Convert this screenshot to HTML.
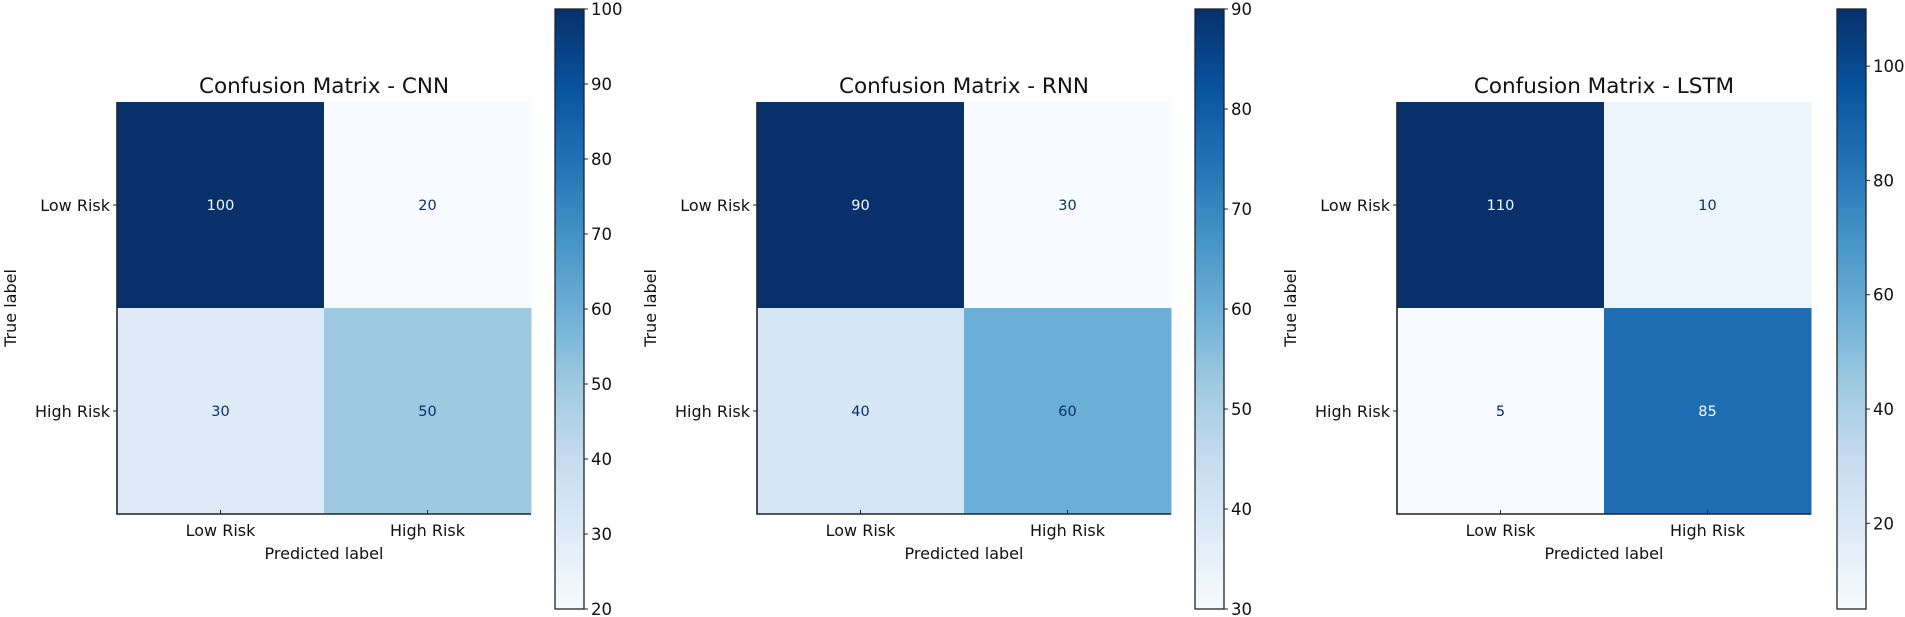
<!DOCTYPE html>
<html><head><meta charset="utf-8"><style>
html,body{margin:0;padding:0;background:#fff;}
svg{display:block;font-family:"DejaVu Sans","Liberation Sans",sans-serif;}
</style></head><body>
<svg id="fig" width="1905" height="617" viewBox="0 0 1905 617" xmlns="http://www.w3.org/2000/svg">
<defs>
<linearGradient id="blues" x1="0" y1="1" x2="0" y2="0">
<stop offset="0" stop-color="#f7fbff"/><stop offset="0.125" stop-color="#deebf7"/><stop offset="0.25" stop-color="#c6dbef"/><stop offset="0.375" stop-color="#9ecae1"/><stop offset="0.5" stop-color="#6baed6"/><stop offset="0.625" stop-color="#4292c6"/><stop offset="0.75" stop-color="#2171b5"/><stop offset="0.875" stop-color="#08519c"/><stop offset="1" stop-color="#08306b"/>
</linearGradient>
</defs>
</svg>
<script>
// ---- data ----
const modelNames = ["CNN", "RNN", "LSTM"];
const classLabels = ["Low Risk", "High Risk"];
const cnnValues = [[100, 20], [30, 50]];
const rnnValues = [[90, 30], [40, 60]];
const lstmValues = [[110, 10], [5, 85]];
const cnnTicks = [20, 30, 40, 50, 60, 70, 80, 90, 100];
const rnnTicks = [30, 40, 50, 60, 70, 80, 90];
const lstmTicks = [20, 40, 60, 80, 100];

const allValues = [cnnValues, rnnValues, lstmValues];
const allTicks = [cnnTicks, rnnTicks, lstmTicks];

const NS = "http://www.w3.org/2000/svg";
const svg = document.getElementById("fig");
const stops = ["#f7fbff","#deebf7","#c6dbef","#9ecae1","#6baed6","#4292c6","#2171b5","#08519c","#08306b"];
function hex(c){return [1,3,5].map(i=>parseInt(c.substr(i,2),16));}
function blues(t){
  t=Math.max(0,Math.min(1,t));
  const p=t*(stops.length-1), i=Math.min(Math.floor(p),stops.length-2), f=p-i;
  const a=hex(stops[i]), b=hex(stops[i+1]);
  return "rgb("+a.map((v,k)=>Math.round(v+(b[k]-v)*f)).join(",")+")";
}
function mk(tag, attrs, parent){
  const e=document.createElementNS(NS,tag);
  for(const k in attrs) e.setAttribute(k,attrs[k]);
  (parent||svg).appendChild(e); return e;
}

const axTop=102, axBot=514, axW=414;
const axLefts=[117,757,1397];
const cbLefts=[555,1195,1837];
const cbTop=9, cbBot=609, cbW=29;

allValues.forEach((vals, m)=>{
  const flat=vals.flat();
  const vmin=Math.min(...flat), vmax=Math.max(...flat);
  const thr=(vmin+vmax)/2;
  const L=axLefts[m];
  const g=mk("g",{});
  
  
  const cw=axW/2, ch=(axBot-axTop)/2;
  const xScale=j=>L+cw*j;
  const yScale=i=>axTop+ch*i;
  for(let i=0;i<2;i++)for(let j=0;j<2;j++){
    const v=vals[i][j];
    const r=mk("rect",{x:xScale(j),y:yScale(i),width:cw+0.5,height:ch+0.5,fill:blues((v-vmin)/(vmax-vmin))},g);
    
    
    const t=mk("text",{x:xScale(j)+cw/2,y:yScale(i)+ch/2+5,"text-anchor":"middle","font-size":"14.5",fill:v>thr?"#f7fbff":"#08306b"},g);
    t.textContent=v;
    
    
  }
  // spines
  const sp=mk("path",{d:`M${L} ${axTop} V${axBot} H${L+axW}`,stroke:"#222",fill:"none","stroke-width":"1.6"},g);
  
  
  // ticks & labels
  classLabels.forEach((lab,k)=>{
    const cy=yScale(k)+ch/2, cx=xScale(k)+cw/2;
    mk("line",{x1:L-4,x2:L,y1:cy,y2:cy,stroke:"#222"},g);
    mk("line",{x1:cx,x2:cx,y1:axBot,y2:axBot-4,stroke:"#222"},g);
    const yl=mk("text",{x:L-7,y:cy+6,"text-anchor":"end","font-size":"16",fill:"#111"},g);
    yl.textContent=lab;
    
    
    const xl=mk("text",{x:cx,y:536,"text-anchor":"middle","font-size":"16",fill:"#111"},g);
    xl.textContent=lab;
    
    
  });
  const title=mk("text",{x:L+axW/2,y:93,"text-anchor":"middle","font-size":"21.5",fill:"#111"},g);
  title.textContent="Confusion Matrix - "+modelNames[m];
  
  
  const xt=mk("text",{x:L+axW/2,y:559,"text-anchor":"middle","font-size":"16",fill:"#111"},g);
  xt.textContent="Predicted label";
  
  
  const ty=(axTop+axBot)/2;
  const yt=mk("text",{x:0,y:0,"text-anchor":"middle","font-size":"16",fill:"#111",transform:`translate(${L-101},${ty}) rotate(-90)`},g);
  yt.textContent="True label";
  
  
  // colorbar
  const C=cbLefts[m];
  const cb=mk("rect",{x:C,y:cbTop,width:cbW,height:cbBot-cbTop,fill:"url(#blues)",stroke:"#222","stroke-width":"1.3"},g);
  
  
  const cbScale=v=>cbBot-(v-vmin)/(vmax-vmin)*(cbBot-cbTop);
  allTicks[m].forEach(tv=>{
    const y=cbScale(tv);
    mk("line",{x1:C+cbW,x2:C+cbW+4,y1:y,y2:y,stroke:"#222"},g);
    const tl=mk("text",{x:C+cbW+7,y:y+6,"font-size":"16.5",fill:"#111"},g);
    tl.textContent=tv;
    
    
  });
});
</script>
</body></html>
